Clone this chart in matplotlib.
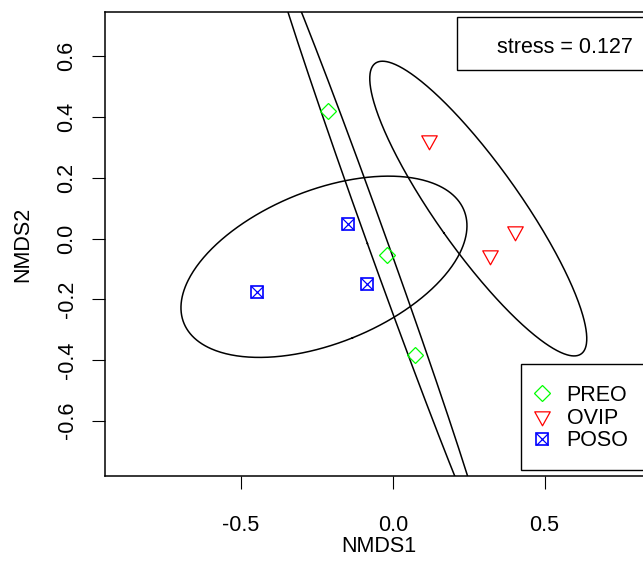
import numpy as np
import matplotlib
matplotlib.use('Agg')
import matplotlib.pyplot as plt
from matplotlib.path import Path
from matplotlib.patches import Rectangle
from matplotlib.lines import Line2D

# ---- data ----
groups = ["PREO", "OVIP", "POSO"]
preo_x = [-0.213, -0.020, 0.073]
preo_y = [0.421, -0.054, -0.384]
ovip_x = [0.120, 0.321, 0.404]
ovip_y = [0.323, -0.053, 0.026]
poso_x = [-0.446, -0.148, -0.086]
poso_y = [-0.176, 0.047, -0.150]
stress = 0.127
conf = 0.95
x_ticks = [-0.5, 0.0, 0.5]
y_ticks = [-0.6, -0.4, -0.2, 0.0, 0.2, 0.4, 0.6]

plt.rcParams['font.family'] = ['Liberation Sans', 'DejaVu Sans']
FS = 15.5

W, H = 643, 564
L, R, T, B = 105, 652, 12, 476
fig = plt.figure(figsize=(W / 100, H / 100), dpi=100)
ax = fig.add_axes([L / W, 1 - B / H, (R - L) / W, (B - T) / H])
ax.set_xlim(-0.948, 0.854)
ax.set_ylim(-0.782, 0.746)


def conf_ellipse(x, y, conf):
    pts = np.column_stack([x, y])
    c = pts.mean(axis=0)
    cov = np.cov(pts.T)
    vals, vecs = np.linalg.eigh(cov)
    vals = np.clip(vals, 0, None)
    scale = np.sqrt(-2 * np.log(1 - conf))
    t = np.linspace(0, 2 * np.pi, 500)
    circ = np.column_stack([np.cos(t), np.sin(t)])
    e = c + scale * (circ * np.sqrt(vals)) @ vecs.T
    return e


for gx, gy in [(preo_x, preo_y), (ovip_x, ovip_y), (poso_x, poso_y)]:
    e = conf_ellipse(gx, gy, conf)
    ax.plot(e[:, 0], e[:, 1], color='black', lw=1.1, zorder=2)

tri = Path([(-1, 0.6), (1, 0.6), (0, -1.2), (-1, 0.6)],
           [Path.MOVETO, Path.LINETO, Path.LINETO, Path.CLOSEPOLY])

mew = 0.9
sty_preo = dict(ls='none', marker='D', ms=7.8, mfc='none', mec='#00ff00', mew=mew)
sty_ovip = dict(ls='none', marker=tri, ms=13.4, mfc='none', mec='#ff0000', mew=mew)
sty_poso_s = dict(ls='none', marker='s', ms=8.5, mfc='none', mec='#0000ff', mew=mew + 0.3)
sty_poso_x = dict(ls='none', marker='x', ms=8.5, mec='#0000ff', mew=mew)

ax.plot(preo_x, preo_y, zorder=3, **sty_preo)
ax.plot(ovip_x, ovip_y, zorder=3, **sty_ovip)
ax.plot(poso_x, poso_y, zorder=3, **sty_poso_s)
ax.plot(poso_x, poso_y, zorder=3, **sty_poso_x)

# axes styling
for sp in ax.spines.values():
    sp.set_linewidth(1.1)
ax.set_xticks(x_ticks)
ax.set_xticklabels([f"{v:.1f}" for v in x_ticks])
ax.set_yticks(y_ticks)
ax.set_yticklabels([f"{v:.1f}" for v in y_ticks])
ax.tick_params(axis='both', direction='out', length=9.3, width=0.8,
               labelsize=FS, colors='black')
ax.tick_params(axis='x', pad=18.5)
ax.tick_params(axis='y', pad=10.5, labelrotation=90)
for lab in ax.get_yticklabels():
    lab.set_va('center')

ax.set_xlabel('NMDS1', fontsize=FS, va='center')
ax.xaxis.set_label_coords(0.5, (B - 547) / (B - T))
ax.set_ylabel('NMDS2', fontsize=FS, va='center')
ax.yaxis.set_label_coords((23 - L) / (R - L), 0.5)


def fx(px):
    return (px - L) / (R - L)


def fy(py):
    return (B - py) / (B - T)


# stress box (top right)
ax.add_patch(Rectangle((fx(457), fy(70)), 0.6, fy(17) - fy(70), transform=ax.transAxes,
                       facecolor='white', edgecolor='black', lw=1.0, zorder=4))
ax.text(fx(497), fy(53.3), f"stress = {stress:.3f}", transform=ax.transAxes,
        ha='left', va='baseline', fontsize=FS, zorder=5)

# group legend (bottom right)
ax.add_patch(Rectangle((fx(520.7), fy(470)), 0.6, fy(364) - fy(470), transform=ax.transAxes,
                       facecolor='white', edgecolor='black', lw=1.0, zorder=4))
h1 = Line2D([], [], **sty_preo)
h2 = Line2D([], [], **sty_ovip)
h3 = (Line2D([], [], **sty_poso_s), Line2D([], [], **sty_poso_x))
leg = ax.legend([h1, h2, h3], groups, loc='center left',
                bbox_to_anchor=(fx(534.2), fy(418)), borderaxespad=0, borderpad=0,
                frameon=False, fontsize=FS, labelspacing=0.09,
                handlelength=0.7, handletextpad=0.81)
leg.set_zorder(6)

fig.savefig('out.png', dpi=100)
